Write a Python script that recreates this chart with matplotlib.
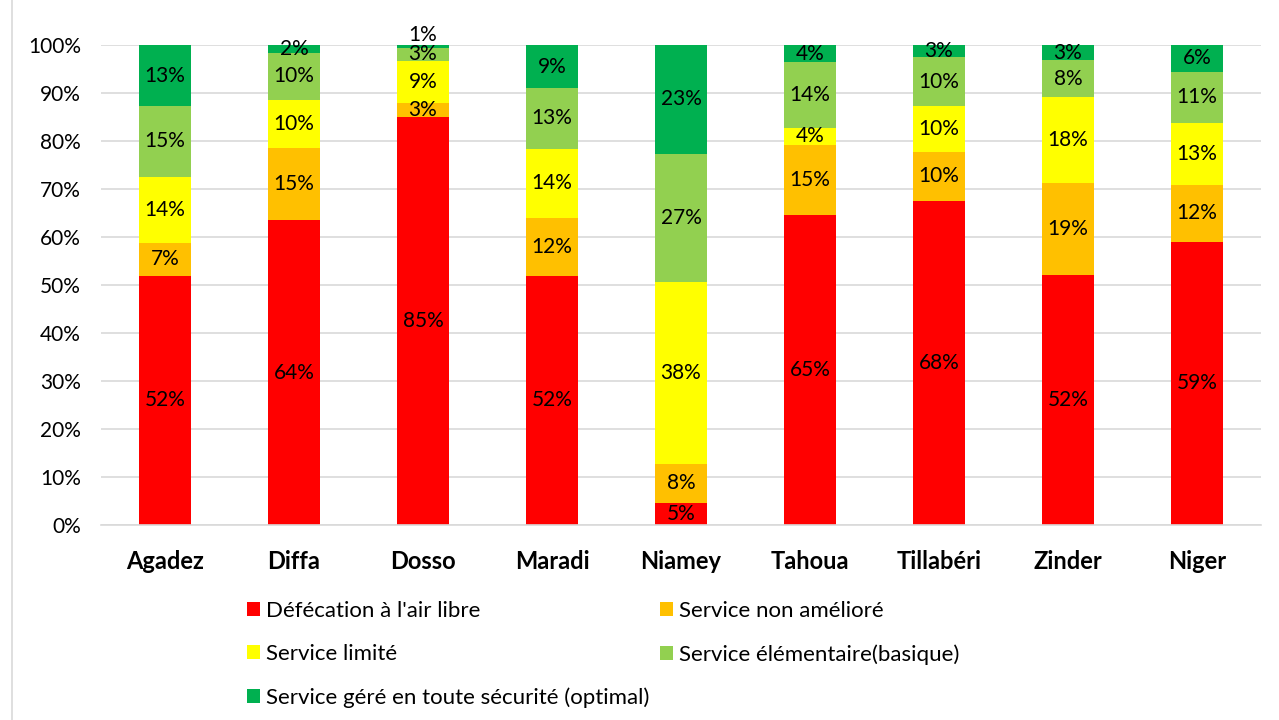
import matplotlib
matplotlib.use("Agg")
import matplotlib.pyplot as plt
from matplotlib.patches import Rectangle, Patch
import numpy as np

plt.rcParams['font.family'] = ['Lato', 'DejaVu Sans']

regions = ["Agadez", "Diffa", "Dosso", "Maradi", "Niamey", "Tahoua", "Tillabéri", "Zinder", "Niger"]
defecation = [51.9, 63.5, 85.0, 51.9, 4.6, 64.6, 67.6, 52.1, 59.0]
non_ameliore = [6.9, 15.0, 2.9, 12.1, 8.2, 14.6, 10.1, 19.2, 11.9]
limite = [13.8, 10.0, 8.8, 14.4, 37.8, 3.6, 9.6, 17.9, 12.9]
elementaire = [14.6, 9.9, 2.7, 12.6, 26.7, 13.6, 10.1, 7.6, 10.6]
optimal = [12.8, 1.6, 0.6, 9.0, 22.7, 3.6, 2.6, 3.2, 5.6]

series_names = ["Défécation à l'air libre", "Service non amélioré", "Service limité",
                "Service élémentaire(basique)", "Service géré en toute sécurité (optimal)"]
series = [defecation, non_ameliore, limite, elementaire, optimal]
colors = ["#FF0000", "#FFC000", "#FFFF00", "#92D050", "#00B050"]

fig = plt.figure(figsize=(12.79, 7.2), dpi=100)
ax = fig.add_axes([0.0786, 0.2708, 0.9077, 0.6667])

x = np.arange(len(regions))
bottom = np.zeros(len(regions))
for name, vals, col in zip(series_names, series, colors):
    vals = np.array(vals)
    ax.bar(x, vals, 0.40, bottom=bottom, color=col, label=name, zorder=2)
    for i, (v, b) in enumerate(zip(vals, bottom)):
        yc = b + v / 2
        if regions[i] == "Dosso" and name.startswith("Service géré"):
            yc = 102.0
        ax.text(x[i], yc, f"{round(v):.0f}%", ha="center", va="center",
                fontsize=15, color="black", zorder=3, clip_on=False)
    bottom += vals

ax.set_xlim(-0.5, len(regions) - 0.5)
ax.set_ylim(0, 100)
ax.set_yticks(np.arange(0, 101, 10))
ax.set_yticklabels([f"{t}%" for t in range(0, 101, 10)], fontsize=15)
ax.set_xticks(x)
ax.set_xticklabels(regions, fontsize=17, fontweight="bold")
ax.tick_params(axis="both", length=0)
ax.tick_params(axis="x", pad=18)
ax.tick_params(axis="y", pad=14)
ax.grid(axis="y", color="#D9D9D9", linewidth=1.2, zorder=0)
for s in ["top", "right", "left"]:
    ax.spines[s].set_visible(False)
ax.spines["bottom"].set_color("#D9D9D9")
ax.spines["bottom"].set_linewidth(1.2)

# legend (row-major order emulated)
order = [0, 2, 4, 1, 3]
handles = [Patch(facecolor=colors[i], edgecolor="none") for i in order]
labels = [series_names[i] for i in order]
fig.legend(handles, labels, loc="upper left", bbox_to_anchor=(0.186, 0.178), ncol=2,
           fontsize=16, frameon=False, handlelength=0.6, handleheight=0.6,
           handletextpad=0.25, columnspacing=0.5, labelspacing=1.05, borderaxespad=0)

# outer chart border
fig.patches.append(Rectangle((0.009, -0.01), 1.2, 1.2, transform=fig.transFigure,
                             fill=False, edgecolor="#D9D9D9", linewidth=1.2))

fig.savefig("out.png", dpi=100)
